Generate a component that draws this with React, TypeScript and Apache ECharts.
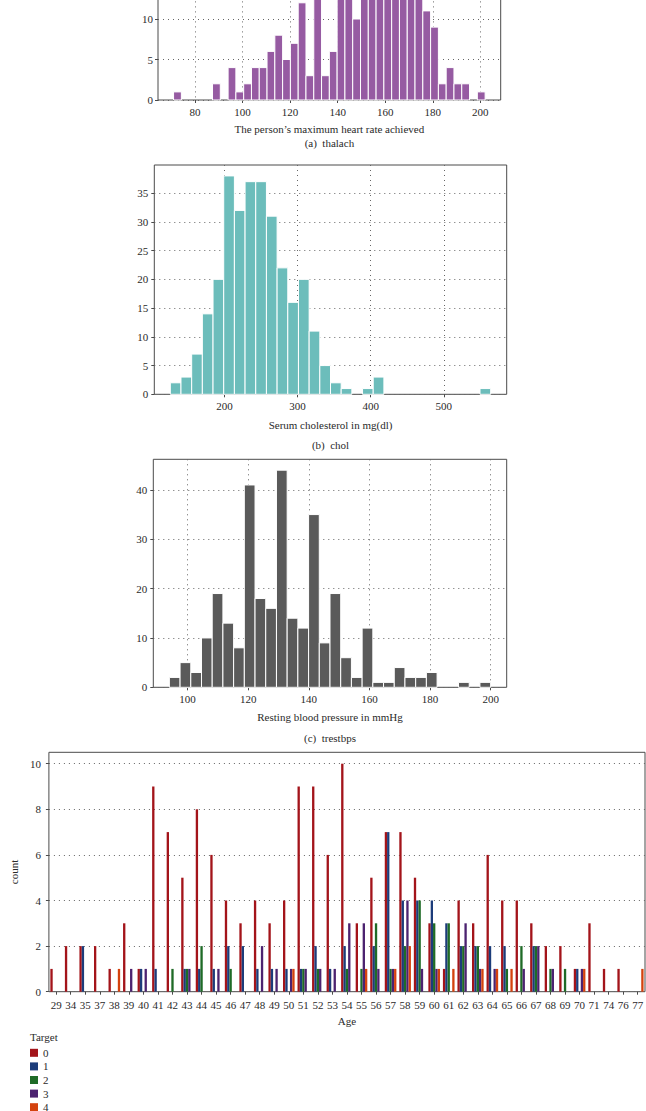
import React, { useEffect, useRef } from "react";
import * as echarts from "echarts";

// ---------- (a) thalach ----------
const thalachRange = [71, 202];
const thalachCounts = [1, 0, 0, 0, 0, 2, 0, 4, 1, 2, 4, 4, 6, 8, 5, 7, 12, 3, 14, 3, 6, 14, 15, 10, 19, 18, 21, 20, 17, 20, 19, 17, 11, 9, 2, 4, 2, 2, 0, 1];
const thalachXTicks = [80, 100, 120, 140, 160, 180, 200];
const thalachYTicks = [0, 5, 10];

// ---------- (b) chol ----------
const cholRange = [126, 564];
const cholCounts = [2, 3, 7, 14, 20, 38, 32, 37, 37, 31, 22, 16, 20, 11, 5, 2, 1, 0, 1, 3, 0, 0, 0, 0, 0, 0, 0, 0, 0, 1];
const cholXTicks = [200, 300, 400, 500];
const cholYTicks = [0, 5, 10, 15, 20, 25, 30, 35];

// ---------- (c) trestbps ----------
const trestbpsRange = [94, 200];
const trestbpsCounts = [2, 5, 3, 10, 19, 13, 8, 41, 18, 16, 44, 14, 12, 35, 9, 19, 6, 2, 12, 1, 1, 4, 2, 2, 3, 0, 0, 1, 0, 1];
const trestbpsXTicks = [100, 120, 140, 160, 180, 200];
const trestbpsYTicks = [0, 10, 20, 30, 40];

// ---------- Age by target ----------
const ages = ["29", "34", "35", "37", "38", "39", "40", "41", "42", "43", "44", "45", "46", "47", "48", "49", "50", "51", "52", "53", "54", "55", "56", "57", "58", "59", "60", "61", "62", "63", "64", "65", "66", "67", "68", "69", "70", "71", "74", "76", "77"];
const target0 = [1, 2, 2, 2, 1, 3, 1, 9, 7, 5, 8, 6, 4, 3, 4, 3, 4, 9, 9, 6, 10, 3, 5, 7, 7, 5, 3, 1, 4, 3, 6, 4, 4, 3, 2, 2, 1, 3, 1, 1, 0];
const target1 = [0, 0, 2, 0, 0, 0, 1, 1, 0, 1, 1, 1, 2, 2, 1, 1, 1, 1, 2, 1, 2, 0, 2, 7, 4, 4, 4, 3, 2, 2, 2, 2, 0, 2, 0, 0, 1, 0, 0, 0, 0];
const target2 = [0, 0, 0, 0, 0, 0, 0, 0, 1, 1, 2, 0, 1, 0, 0, 0, 0, 1, 1, 0, 1, 1, 3, 1, 2, 4, 3, 3, 2, 2, 0, 1, 2, 2, 1, 1, 0, 0, 0, 0, 0];
const target3 = [0, 0, 0, 0, 0, 1, 1, 0, 0, 1, 0, 1, 0, 0, 2, 1, 1, 1, 1, 1, 3, 3, 1, 1, 4, 1, 1, 0, 3, 1, 1, 0, 1, 2, 1, 0, 1, 0, 0, 0, 0];
const target4 = [0, 0, 0, 0, 1, 0, 0, 0, 0, 0, 0, 0, 0, 0, 0, 0, 1, 0, 0, 0, 0, 1, 0, 1, 2, 0, 1, 1, 0, 1, 1, 1, 0, 0, 0, 0, 1, 0, 0, 0, 1];
const targetNames = ["0", "1", "2", "3", "4"];
const ageYTicks = [0, 2, 4, 6, 8, 10];

const FONT = "'Liberation Serif', 'DejaVu Serif', serif";
const TXT = "#2a2a2a";
const FRAME = "#4a4a4a";
const DOT = { type: [1, 4] as any, color: "#666", width: 1 };
const OFF = 100; // chart canvas starts above the page so the first panel is cut off at the top
const EXTRA = 30;

function binData(range: number[], counts: number[]) {
  const w = (range[1] - range[0]) / counts.length;
  return counts.map((c, i) => [range[0] + i * w, range[0] + (i + 1) * w, c]);
}

function histSeries(idx: number, range: number[], counts: number[], color: string) {
  return {
    type: "custom",
    xAxisIndex: idx,
    yAxisIndex: idx,
    encode: { x: [0, 1], y: 2 },
    data: binData(range, counts),
    renderItem: (params: any, api: any) => {
      const x0 = api.value(0);
      const x1 = api.value(1);
      const v = api.value(2);
      if (!v) return null;
      const p0 = api.coord([x0, v]);
      const p1 = api.coord([x1, 0]);
      return {
        type: "rect",
        shape: { x: p0[0], y: p0[1], width: p1[0] - p0[0], height: p1[1] - p0[1] },
        style: { fill: color, stroke: "#ffffff", lineWidth: 1 },
      };
    },
  };
}

function valX(idx: number, min: number, max: number, ticks: number[], name: string, gap: number) {
  return {
    type: "value",
    gridIndex: idx,
    min,
    max,
    name,
    nameLocation: "middle",
    nameGap: gap,
    nameTextStyle: { fontFamily: FONT, fontSize: 11, color: TXT },
    axisLine: { show: false },
    axisTick: { show: true, length: 3, customValues: ticks, lineStyle: { color: FRAME } },
    axisLabel: { customValues: ticks, margin: 6, fontFamily: FONT, fontSize: 11, color: TXT },
    splitLine: { show: true, lineStyle: DOT },
  };
}

function valY(idx: number, min: number, max: number, ticks: number[], margin: number) {
  return {
    type: "value",
    gridIndex: idx,
    min,
    max,
    axisLine: { show: false },
    axisTick: { show: true, length: 3, customValues: ticks, lineStyle: { color: FRAME } },
    axisLabel: { customValues: ticks, margin, fontFamily: FONT, fontSize: 11, color: TXT },
    splitLine: { show: true, lineStyle: DOT },
  };
}

const ageColors = ["#a3141a", "#1c3c7a", "#1f6b27", "#4c2370", "#d4420e"];
const targetData = [target0, target1, target2, target3, target4];

export default function App() {
  const ref = useRef<HTMLDivElement>(null);
  useEffect(() => {
    document.body.style.margin = "0";
    document.body.style.overflow = "hidden";
    document.documentElement.style.overflow = "hidden";
    if (!ref.current) return;
    const chart = echarts.init(ref.current, undefined, { renderer: "svg" });
    const grid = (left: number, top: number, width: number, height: number) => ({
      left,
      top: top + OFF,
      width,
      height,
      show: true,
      backgroundColor: "transparent",
      borderColor: FRAME,
      borderWidth: 1,
      containLabel: false,
    });
    const txt = (x: number, y: number, text: string, align: string) => ({
      type: "text",
      x,
      y: y + OFF,
      style: { text, font: `11px ${FONT}`, fill: TXT, textAlign: align, textVerticalAlign: "middle" },
    });
    const option: any = {
      animation: false,
      backgroundColor: "#ffffff",
      grid: [
        grid(158, -78.6, 342.7, 178.6),
        grid(154.3, 165, 352.4, 229.3),
        grid(153.3, 459.3, 353.4, 228),
        grid(29.3, 752.3, 616, 239.4),
      ],
      xAxis: [
        valX(0, 64.45, 208.55, thalachXTicks, "The person\u2019s maximum heart rate achieved", 23),
        valX(1, 104.1, 585.9, cholXTicks, "Serum cholesterol in mg(dl)", 25),
        valX(2, 88.7, 205.3, trestbpsXTicks, "Resting blood pressure in mmHg", 24),
        {
          type: "category",
          gridIndex: 3,
          data: ages,
          boundaryGap: true,
          name: "Age",
          nameLocation: "middle",
          nameGap: 24,
          nameTextStyle: { fontFamily: FONT, fontSize: 11, color: TXT },
          axisLine: { show: false },
          axisTick: { show: true, alignWithLabel: true, length: 3, lineStyle: { color: FRAME } },
          axisLabel: { interval: 0, margin: 8, fontFamily: FONT, fontSize: 11, color: TXT },
          splitLine: { show: false },
        },
      ],
      yAxis: [
        valY(0, 0, 22.05, thalachYTicks, 5),
        valY(1, 0, 39.9, cholYTicks, 6),
        valY(2, 0, 46.2, trestbpsYTicks, 6),
        {
          ...valY(3, 0, 10.5, ageYTicks, 8),
          name: "count",
          nameLocation: "middle",
          nameGap: 20,
          nameTextStyle: { fontFamily: FONT, fontSize: 11, color: TXT },
        },
      ],
      legend: {
        data: targetNames,
        orient: "vertical",
        left: 30,
        top: 1046 + OFF,
        itemWidth: 8,
        itemHeight: 8,
        itemGap: 0,
        icon: "rect",
        textStyle: { fontFamily: FONT, fontSize: 11, color: TXT, lineHeight: 13.6 },
        padding: 0,
      },
      graphic: [
        txt(329.4, 143, "(a)  thalach", "center"),
        txt(330.5, 445, "(b)  chol", "center"),
        txt(330, 738, "(c)  trestbps", "center"),
        txt(30, 1037, "Target", "left"),
      ],
      series: [
        histSeries(0, thalachRange, thalachCounts, "#965ba2"),
        histSeries(1, cholRange, cholCounts, "#6cbdbb"),
        histSeries(2, trestbpsRange, trestbpsCounts, "#5a5a5a"),
        ...targetNames.map((n, i) => ({
          type: "bar",
          name: n,
          xAxisIndex: 3,
          yAxisIndex: 3,
          data: targetData[i],
          barGap: "0%",
          barCategoryGap: "20%",
          itemStyle: { color: ageColors[i] },
        })),
      ],
    };
    chart.setOption(option);
    return () => chart.dispose();
  }, []);
  return (
    <div
      ref={ref}
      style={{ position: "absolute", left: 0, top: -OFF, width: 646, height: 1111 + OFF + EXTRA }}
    />
  );
}
